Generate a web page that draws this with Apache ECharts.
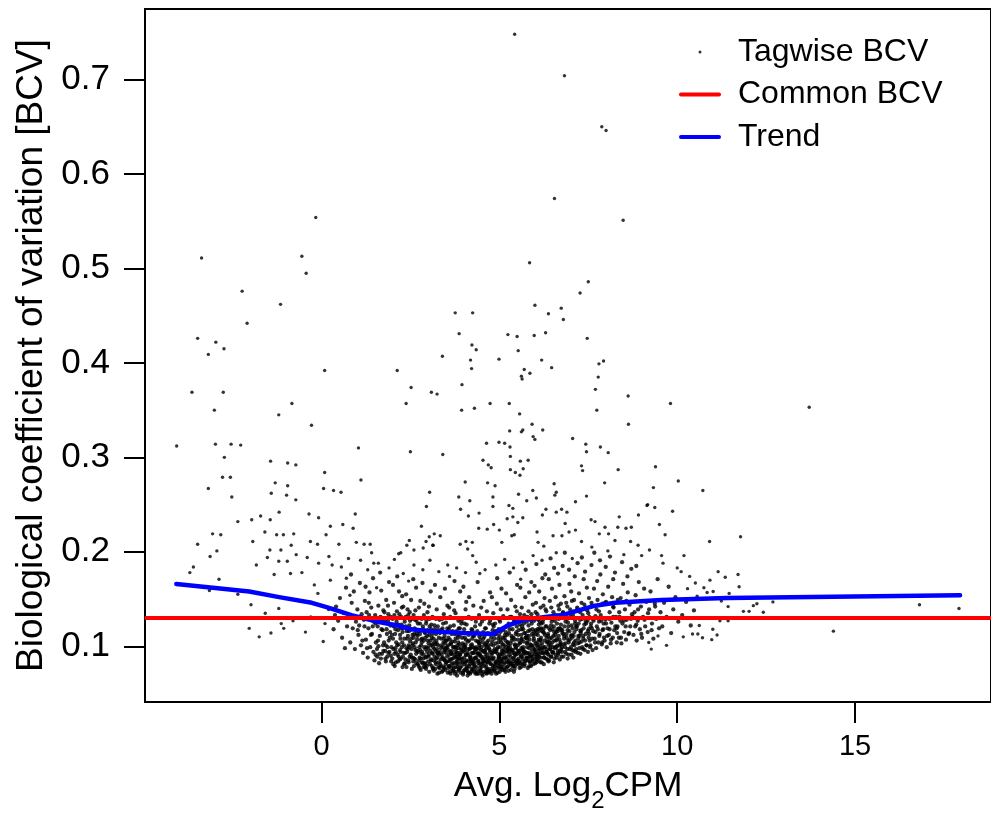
<!DOCTYPE html>
<html><head><meta charset="utf-8">
<script src="https://cdn.jsdelivr.net/npm/echarts@6/dist/echarts.min.js"></script>
<style>html,body{margin:0;padding:0;background:#fff}#chart{width:991px;height:818px}</style>
</head><body><div id="chart"></div>
<script>
const xTicks = [0, 5, 10, 15];
const yTicks = [0.1, 0.2, 0.3, 0.4, 0.5, 0.6, 0.7];
const commonBCV = 0.129;
const trendLogCPM = [-4.08,-2.03,-1.19,-0.27,0.19,0.84,1.58,2.14,2.51,3.06,3.99,4.82,5.19,5.66,6.77,7.69,8.25,9.08,9.55,10.47,11.4,17.95];
const trendBCV    = [0.166,0.158,0.152,0.146,0.141,0.133,0.126,0.122,0.118,0.116,0.114,0.113,0.121,0.128,0.133,0.143,0.146,0.148,0.149,0.150,0.151,0.154];

// tagwise BCV, sparse / outlying genes  [logCPM, BCV]
const tagwiseSparse = [
[5.43,0.748],[6.83,0.704],[7.88,0.65],[8.0,0.646],[6.55,0.574],[-0.16,0.554],[8.48,0.551],[-3.37,0.511],[-0.55,0.513],[5.85,0.506],[-0.43,0.495],[7.5,0.486],[-2.23,0.476],[7.27,0.474],[-1.15,0.462],[6.0,0.461],[6.74,0.458],[3.76,0.453],[4.25,0.453],[6.38,0.452],[6.8,0.446],[-2.09,0.442],[6.3,0.432],[3.87,0.431],[5.24,0.43],[5.98,0.429],[5.5,0.428],[-3.48,0.426],[7.47,0.426],[-2.97,0.422],[4.23,0.419],[-2.74,0.415],[4.35,0.414],[5.53,0.413],[-3.18,0.409],[3.4,0.407],[4.99,0.404],[4.19,0.403],[6.19,0.403],[7.93,0.402],[7.8,0.399],[6.47,0.395],[4.22,0.394],[5.7,0.393],[0.09,0.392],[2.13,0.392],[5.86,0.389],[5.62,0.386],[7.78,0.385],[5.64,0.383],[3.95,0.377],[2.52,0.374],[7.7,0.372],[-3.64,0.369],[-2.76,0.369],[3.09,0.369],[3.25,0.367],[8.62,0.365],[-0.83,0.357],[2.38,0.357],[4.74,0.357],[5.28,0.357],[9.81,0.357],[13.71,0.353],[4.3,0.352],[-3.01,0.35],[3.94,0.35],[7.74,0.35],[5.57,0.346],[-1.2,0.345],[-0.28,0.334],[5.92,0.335],[8.63,0.335],[5.66,0.329],[6.22,0.329],[5.29,0.328],[5.62,0.327],[5.95,0.322],[7.06,0.32],[6.0,0.319],[4.99,0.316],[5.15,0.315],[4.64,0.315],[-2.98,0.314],[-2.54,0.314],[7.43,0.314],[-2.27,0.313],[-4.07,0.312],[7.84,0.311],[5.3,0.311],[1.04,0.31],[2.5,0.306],[7.45,0.306],[8.06,0.305],[3.41,0.303],[5.31,0.301],[-2.73,0.3],[4.54,0.297],[5.81,0.297],[-1.43,0.296],[5.59,0.296],[-0.95,0.294],[4.69,0.292],[-0.72,0.292],[7.31,0.291],[9.39,0.29],[4.77,0.289],[5.67,0.288],[5.31,0.287],[8.34,0.287],[7.34,0.286],[5.45,0.284],[0.09,0.284],[5.58,0.281],[-2.78,0.279],[-2.56,0.279],[1.11,0.276],[10.03,0.275],[4.04,0.274],[7.96,0.273],[4.67,0.273],[-1.3,0.273],[6.54,0.272],[4.88,0.27],[-0.95,0.27],[9.33,0.268],[-3.18,0.267],[0.06,0.267],[5.94,0.265],[10.72,0.265],[0.34,0.265],[0.55,0.263],[3.04,0.263],[6.6,0.263],[-1.41,0.262],[5.54,0.261],[-0.98,0.26],[6.56,0.26],[7.45,0.259],[-2.52,0.258],[3.86,0.258],[4.82,0.258],[6.04,0.257],[-0.72,0.255],[5.77,0.254],[4.17,0.254],[7.14,0.253],[9.17,0.25],[5.27,0.249],[9.15,0.249],[2.95,0.248],[4.82,0.248],[9.37,0.247],[5.38,0.246],[3.91,0.245],[6.31,0.245],[6.75,0.245],[9.87,0.243],[-1.19,0.242],[6.6,0.242],[6.9,0.242],[4.43,0.241],[-0.35,0.24],[0.95,0.24],[6.21,0.239],[8.91,0.239],[-1.71,0.238],[4.13,0.238],[5.38,0.237],[8.37,0.237],[5.66,0.236],[-0.08,0.236],[5.22,0.235],[-1.96,0.234],[-1.44,0.234],[7.58,0.234],[-2.35,0.232],[7.69,0.232],[5.52,0.231],[6.85,0.23],[9.5,0.229],[0.6,0.229],[4.84,0.229],[2.81,0.227],[0.25,0.227],[8.71,0.226],[7.97,0.226],[8.33,0.226],[8.56,0.225],[0.89,0.225],[4.42,0.225],[4.66,0.224],[5.0,0.223],[7.14,0.223],[-1.59,0.221],[6.06,0.221],[6.96,0.221],[3.17,0.219],[-0.78,0.219],[-3.06,0.219],[8.07,0.219],[7.81,0.219],[-1.26,0.218],[-1.07,0.218],[-2.83,0.218],[5.42,0.218],[0.13,0.218],[9.66,0.218],[6.51,0.217],[3.34,0.217],[6.76,0.217],[11.78,0.216],[3.03,0.216],[5.35,0.217],[2.47,0.212],[8.25,0.212],[7.31,0.211],[10.91,0.211],[-1.93,0.211],[-0.31,0.211],[4.06,0.211],[2.94,0.211],[8.69,0.211],[4.24,0.21],[6.09,0.21],[5.07,0.21],[0.98,0.21],[1.2,0.208],[1.37,0.208],[0.49,0.208],[-0.11,0.208],[3.9,0.208],[-3.48,0.208],[3.13,0.207],[3.14,0.207],[2.4,0.207],[-0.85,0.207],[8.9,0.207],[6.25,0.206],[2.86,0.204],[4.11,0.203],[-1.14,0.202],[2.6,0.202],[-1.45,0.202],[9.22,0.202],[-2.94,0.201],[1.41,0.199],[2.23,0.199],[2.17,0.198],[-0.71,0.197],[10.19,0.196],[9.56,0.196],[4.25,0.196],[-1.52,0.194],[-0.4,0.194],[0.21,0.195],[-3.13,0.195],[0.76,0.193],[-0.96,0.19],[-1.2,0.19],[-0.08,0.188],[1.47,0.188],[-1.83,0.186],[-3.6,0.184],[0.56,0.184],[11.15,0.179],[10.11,0.179],[-0.55,0.178],[-3.7,0.178],[-0.87,0.177],[-1.33,0.176],[11.71,0.176],[10.35,0.174],[11.35,0.173],[-2.88,0.171],[10.92,0.17],[10.51,0.167],[11.74,0.163],[10.75,0.162],[10.29,0.161],[-3.15,0.159],[11.01,0.158],[10.84,0.157],[11.46,0.156],[-2.35,0.155],[10.56,0.153],[11.24,0.148],[12.69,0.147],[12.24,0.145],[-1.98,0.144],[16.81,0.144],[12.14,0.143],[11.43,0.142],[17.92,0.14],[-1.2,0.14],[11.86,0.137],[12.02,0.137],[12.42,0.136],[-1.58,0.135],[11.2,0.127],[11.43,0.127],[-1.13,0.124],[10.62,0.122],[-2.03,0.119],[-1.06,0.119],[11.0,0.118],[14.39,0.116],[-1.42,0.114],[10.43,0.113],[10.58,0.113],[11.12,0.112],[-1.75,0.11],[10.17,0.11],[10.71,0.109],[10.97,0.107],[9.7,0.101],[9.46,0.111],[9.27,0.097],[9.2,0.104],
[0.3,0.186],[0.7,0.172],[1.1,0.191],[1.3,0.181],[1.6,0.188],[1.9,0.183],[2.05,0.192],[2.3,0.177],[2.6,0.186],[2.85,0.181],[3.05,0.191],[3.3,0.179],[3.55,0.186],[3.8,0.183],[4.05,0.178],[4.35,0.189],[4.6,0.181],[4.9,0.186],[5.15,0.192],[5.4,0.183],[5.65,0.189],[5.95,0.196],[6.2,0.191],[6.6,0.199],[7.05,0.193],[7.6,0.205],[8.05,0.201],[8.5,0.197],[9.0,0.196],[9.6,0.188],[10.0,0.183],[0.8,0.154],[1.55,0.162],[2.45,0.169],[3.6,0.174],[4.45,0.177],[5.6,0.171],
[-0.6,0.148],[-0.3,0.131],[-0.1,0.156],[0.1,0.124],[0.2,0.139],[-0.8,0.127],[0.05,0.105],[-0.45,0.115],[0.25,0.17],[-0.2,0.165]
];

// tagwise BCV, dense core  [logCPM, BCV]
const tagwiseDense = [
[0.34,0.118],[0.41,0.142],[0.47,0.127],[0.52,0.151],[0.58,0.109],[0.63,0.135],[0.69,0.162],[0.72,0.121],[0.38,0.133],[0.66,0.098],
[0.78,0.131],[0.81,0.104],[0.85,0.146],[0.88,0.119],[0.91,0.158],[0.94,0.097],[0.97,0.126],[1.01,0.139],[1.04,0.112],[1.08,0.167],[1.11,0.101],[1.13,0.134],[0.83,0.176],[1.06,0.122],
[1.17,0.093],[1.19,0.128],[1.22,0.148],[1.25,0.107],[1.27,0.136],[1.3,0.088],[1.32,0.119],[1.35,0.157],[1.37,0.099],[1.4,0.141],[1.42,0.113],[1.45,0.172],[1.47,0.126],[1.49,0.085],[1.51,0.133],[1.53,0.104],[1.24,0.163],[1.44,0.121],
[1.56,0.097],[1.58,0.121],[1.6,0.143],[1.62,0.082],[1.64,0.111],[1.66,0.131],[1.68,0.159],[1.7,0.092],[1.72,0.117],[1.74,0.138],[1.76,0.104],[1.78,0.126],[1.8,0.087],[1.82,0.149],[1.84,0.113],[1.86,0.099],[1.88,0.134],[1.9,0.168],[1.92,0.109],[1.94,0.122],[1.65,0.178],[1.79,0.095],[1.87,0.143],[1.71,0.128],
[1.96,0.084],[1.98,0.112],[2.0,0.129],[2.02,0.097],[2.04,0.146],[2.06,0.079],[2.08,0.118],[2.1,0.104],[2.12,0.137],[2.14,0.091],[2.16,0.123],[2.18,0.158],[2.2,0.086],[2.22,0.108],[2.24,0.131],[2.26,0.099],[2.28,0.115],[2.3,0.142],[2.32,0.081],[2.34,0.126],[2.01,0.165],[2.09,0.094],[2.17,0.102],[2.23,0.119],[2.29,0.089],[2.13,0.174],[2.27,0.153],[2.05,0.133],
[2.36,0.093],[2.37,0.121],[2.39,0.078],[2.41,0.108],[2.42,0.139],[2.44,0.085],[2.46,0.116],[2.47,0.099],[2.49,0.127],[2.51,0.091],[2.52,0.149],[2.54,0.076],[2.56,0.112],[2.57,0.103],[2.59,0.133],[2.61,0.087],[2.62,0.119],[2.64,0.096],[2.66,0.162],[2.67,0.082],[2.69,0.107],[2.71,0.124],[2.72,0.094],[2.74,0.141],[2.38,0.155],[2.45,0.101],[2.53,0.088],[2.58,0.171],[2.63,0.128],[2.68,0.113],[2.73,0.079],[2.48,0.136],
[2.76,0.088],[2.77,0.113],[2.79,0.075],[2.8,0.101],[2.82,0.129],[2.83,0.094],[2.85,0.082],[2.86,0.118],[2.88,0.106],[2.89,0.145],[2.91,0.078],[2.92,0.097],[2.94,0.124],[2.95,0.089],[2.97,0.111],[2.98,0.136],[3.0,0.084],[3.01,0.103],[3.03,0.073],[3.04,0.121],[3.06,0.095],[3.07,0.158],[3.09,0.086],[3.1,0.109],[3.12,0.131],[3.13,0.092],[3.14,0.077],[2.78,0.148],[2.84,0.167],[2.9,0.115],[2.96,0.099],[3.02,0.142],[3.08,0.118],[2.87,0.091],[2.93,0.081],[3.11,0.102],
[3.16,0.085],[3.17,0.104],[3.18,0.122],[3.2,0.076],[3.21,0.095],[3.22,0.113],[3.24,0.139],[3.25,0.088],[3.26,0.071],[3.28,0.101],[3.29,0.117],[3.3,0.083],[3.32,0.128],[3.33,0.094],[3.34,0.152],[3.36,0.079],[3.37,0.108],[3.38,0.091],[3.4,0.119],[3.41,0.074],[3.42,0.099],[3.44,0.134],[3.45,0.086],[3.46,0.111],[3.48,0.097],[3.49,0.081],[3.5,0.125],[3.52,0.106],[3.53,0.089],[3.54,0.143],[3.19,0.165],[3.27,0.093],[3.31,0.072],[3.35,0.115],[3.39,0.129],[3.43,0.078],[3.47,0.161],[3.51,0.098],[3.23,0.087],[3.47,0.103],
[3.56,0.077],[3.57,0.096],[3.58,0.118],[3.6,0.084],[3.61,0.107],[3.62,0.131],[3.63,0.071],[3.65,0.092],[3.66,0.113],[3.67,0.081],[3.68,0.146],[3.7,0.099],[3.71,0.074],[3.72,0.122],[3.73,0.088],[3.75,0.105],[3.76,0.078],[3.77,0.135],[3.78,0.094],[3.8,0.116],[3.81,0.069],[3.82,0.101],[3.83,0.086],[3.85,0.127],[3.86,0.093],[3.87,0.075],[3.88,0.112],[3.9,0.158],[3.91,0.083],[3.92,0.098],[3.93,0.124],[3.94,0.079],[3.59,0.141],[3.64,0.102],[3.69,0.087],[3.74,0.169],[3.79,0.082],[3.84,0.109],[3.89,0.091],[3.61,0.073],[3.73,0.138],[3.86,0.119],
[3.96,0.086],[3.97,0.103],[3.98,0.072],[4.0,0.095],[4.01,0.118],[4.02,0.081],[4.03,0.109],[4.05,0.139],[4.06,0.076],[4.07,0.091],[4.08,0.123],[4.1,0.084],[4.11,0.069],[4.12,0.105],[4.13,0.097],[4.15,0.152],[4.16,0.079],[4.17,0.114],[4.18,0.088],[4.2,0.101],[4.21,0.073],[4.22,0.129],[4.23,0.093],[4.25,0.082],[4.26,0.111],[4.27,0.143],[4.28,0.077],[4.3,0.098],[4.31,0.087],[4.32,0.121],[4.33,0.071],[4.34,0.106],[3.99,0.163],[4.04,0.099],[4.09,0.074],[4.14,0.131],[4.19,0.089],[4.24,0.117],[4.29,0.083],[4.07,0.147],[4.18,0.071],[4.31,0.094],
[4.36,0.078],[4.37,0.097],[4.38,0.116],[4.4,0.085],[4.41,0.071],[4.42,0.104],[4.43,0.133],[4.45,0.092],[4.46,0.081],[4.47,0.112],[4.48,0.074],[4.5,0.099],[4.51,0.126],[4.52,0.087],[4.53,0.069],[4.55,0.108],[4.56,0.148],[4.57,0.094],[4.58,0.079],[4.6,0.119],[4.61,0.086],[4.62,0.102],[4.63,0.072],[4.65,0.137],[4.66,0.091],[4.67,0.083],[4.68,0.114],[4.7,0.076],[4.71,0.098],[4.72,0.124],[4.73,0.088],[4.74,0.157],[4.39,0.168],[4.44,0.101],[4.49,0.141],[4.54,0.083],[4.59,0.095],[4.64,0.076],[4.69,0.106],[4.47,0.09],[4.58,0.129],[4.73,0.073],
[4.76,0.081],[4.77,0.102],[4.78,0.071],[4.8,0.093],[4.81,0.117],[4.82,0.086],[4.83,0.135],[4.85,0.076],[4.86,0.108],[4.87,0.097],[4.88,0.124],[4.9,0.083],[4.91,0.071],[4.92,0.113],[4.93,0.145],[4.95,0.092],[4.96,0.079],[4.97,0.104],[4.98,0.088],[5.0,0.128],[5.01,0.073],[5.02,0.099],[5.03,0.115],[5.05,0.084],[5.06,0.161],[5.07,0.095],[5.08,0.078],[5.1,0.109],[5.11,0.132],[5.12,0.087],[5.13,0.101],[5.14,0.075],[4.79,0.152],[4.84,0.121],[4.89,0.094],[4.94,0.172],[4.99,0.082],[5.04,0.139],[5.09,0.091],[4.87,0.074],[5.0,0.111],[5.12,0.119],
[5.16,0.088],[5.17,0.106],[5.18,0.077],[5.2,0.121],[5.21,0.095],[5.22,0.083],[5.23,0.139],[5.25,0.101],[5.26,0.074],[5.27,0.114],[5.28,0.091],[5.3,0.131],[5.31,0.082],[5.32,0.103],[5.33,0.149],[5.35,0.096],[5.36,0.079],[5.37,0.118],[5.38,0.087],[5.4,0.109],[5.41,0.126],[5.42,0.093],[5.43,0.076],[5.45,0.142],[5.46,0.099],[5.47,0.085],[5.48,0.115],[5.5,0.165],[5.51,0.092],[5.52,0.107],[5.53,0.081],[5.54,0.128],[5.19,0.156],[5.24,0.097],[5.29,0.178],[5.34,0.111],[5.39,0.084],[5.44,0.102],[5.49,0.137],[5.26,0.124],[5.41,0.073],[5.52,0.095],
[5.56,0.084],[5.57,0.103],[5.58,0.123],[5.6,0.091],[5.61,0.078],[5.62,0.112],[5.63,0.141],[5.65,0.097],[5.66,0.086],[5.67,0.118],[5.68,0.105],[5.7,0.133],[5.71,0.081],[5.72,0.094],[5.73,0.152],[5.75,0.109],[5.76,0.088],[5.77,0.126],[5.78,0.099],[5.8,0.077],[5.81,0.116],[5.82,0.137],[5.83,0.092],[5.85,0.107],[5.86,0.083],[5.87,0.129],[5.88,0.101],[5.9,0.168],[5.91,0.095],[5.92,0.113],[5.93,0.086],[5.94,0.144],[5.59,0.162],[5.64,0.121],[5.69,0.093],[5.74,0.181],[5.79,0.104],[5.84,0.157],[5.89,0.079],[5.62,0.098],[5.77,0.111],[5.91,0.124],
[5.96,0.089],[5.97,0.108],[5.98,0.127],[6.0,0.096],[6.01,0.082],[6.02,0.117],[6.03,0.146],[6.05,0.101],[6.06,0.091],[6.07,0.134],[6.08,0.112],[6.1,0.085],[6.11,0.123],[6.12,0.158],[6.13,0.097],[6.15,0.106],[6.16,0.141],[6.17,0.088],[6.18,0.119],[6.2,0.103],[6.21,0.172],[6.22,0.093],[6.23,0.128],[6.25,0.081],[6.26,0.114],[6.27,0.151],[6.28,0.099],[6.3,0.121],[6.31,0.087],[6.32,0.137],[6.33,0.109],[6.34,0.094],[5.99,0.164],[6.04,0.187],[6.09,0.099],[6.14,0.126],[6.19,0.083],[6.24,0.143],[6.29,0.176],[6.11,0.107],
[6.36,0.092],[6.37,0.113],[6.38,0.131],[6.4,0.085],[6.41,0.104],[6.42,0.148],[6.43,0.097],[6.45,0.122],[6.46,0.089],[6.47,0.109],[6.48,0.161],[6.5,0.118],[6.51,0.094],[6.52,0.136],[6.53,0.083],[6.55,0.106],[6.56,0.127],[6.57,0.099],[6.58,0.152],[6.6,0.115],[6.61,0.088],[6.62,0.124],[6.63,0.101],[6.65,0.177],[6.66,0.093],[6.67,0.111],[6.68,0.139],[6.7,0.086],[6.71,0.119],[6.72,0.102],[6.73,0.145],[6.74,0.097],[6.39,0.171],[6.44,0.193],[6.49,0.129],[6.54,0.183],[6.64,0.116],[6.69,0.165],
[6.76,0.094],[6.77,0.117],[6.79,0.135],[6.8,0.089],[6.82,0.108],[6.83,0.153],[6.85,0.099],[6.86,0.126],[6.88,0.092],[6.89,0.113],[6.91,0.142],[6.92,0.087],[6.94,0.121],[6.95,0.104],[6.97,0.166],[6.98,0.097],[7.0,0.131],[7.01,0.111],[7.03,0.091],[7.04,0.148],[7.06,0.119],[7.07,0.102],[7.09,0.137],[7.1,0.095],[7.12,0.174],[7.13,0.124],[7.14,0.106],[6.78,0.185],[6.84,0.199],[6.9,0.129],[6.96,0.181],[7.02,0.158],[7.08,0.088],[7.11,0.115],
[7.16,0.097],[7.18,0.121],[7.19,0.139],[7.21,0.093],[7.22,0.111],[7.24,0.156],[7.25,0.104],[7.27,0.128],[7.28,0.092],[7.3,0.117],[7.31,0.146],[7.33,0.099],[7.34,0.133],[7.36,0.108],[7.37,0.171],[7.39,0.123],[7.4,0.096],[7.42,0.141],[7.43,0.113],[7.45,0.101],[7.46,0.162],[7.48,0.127],[7.49,0.094],[7.51,0.118],[7.52,0.151],[7.54,0.106],[7.2,0.188],[7.32,0.194],[7.41,0.179],[7.5,0.135],
[7.56,0.101],[7.58,0.124],[7.6,0.143],[7.62,0.096],[7.64,0.116],[7.66,0.161],[7.68,0.108],[7.7,0.132],[7.72,0.098],[7.74,0.121],[7.76,0.149],[7.78,0.104],[7.8,0.137],[7.82,0.113],[7.84,0.176],[7.86,0.127],[7.88,0.102],[7.9,0.145],[7.92,0.118],[7.94,0.109],[7.59,0.186],[7.67,0.199],[7.75,0.169],[7.83,0.191],[7.91,0.155],[7.63,0.129],
[7.96,0.106],[7.98,0.128],[8.0,0.147],[8.02,0.099],[8.04,0.119],[8.06,0.163],[8.08,0.112],[8.1,0.136],[8.13,0.103],[8.15,0.125],[8.17,0.152],[8.19,0.109],[8.21,0.141],[8.23,0.117],[8.25,0.178],[8.28,0.131],[8.3,0.104],[8.33,0.149],[7.99,0.184],[8.11,0.195],[8.2,0.171],[8.32,0.121],
[8.36,0.109],[8.38,0.131],[8.41,0.151],[8.43,0.103],[8.46,0.124],[8.48,0.166],[8.51,0.115],[8.53,0.139],[8.56,0.107],[8.58,0.128],[8.61,0.157],[8.63,0.113],[8.66,0.144],[8.68,0.121],[8.71,0.182],[8.73,0.134],[8.45,0.189],[8.6,0.174],
[8.77,0.112],[8.8,0.136],[8.83,0.154],[8.86,0.106],[8.89,0.127],[8.92,0.168],[8.95,0.118],[8.98,0.142],[9.01,0.109],[9.04,0.131],[9.07,0.161],[9.1,0.121],[9.13,0.147],[8.85,0.185],
[9.17,0.115],[9.21,0.139],[9.25,0.158],[9.29,0.124],[9.33,0.108],[9.37,0.145],[9.41,0.129],[9.45,0.171],[9.49,0.119],[9.53,0.136],
[9.58,0.121],[9.63,0.146],[9.7,0.131],[9.76,0.163],[9.83,0.114],[9.89,0.139],[9.95,0.152],[10.03,0.126],
[10.14,0.133],[10.25,0.147],[10.38,0.122],[10.47,0.138]
];

// tagwise BCV, densest core (second and third pass over the solid region)  [logCPM, BCV]
const tagwiseCore = [
[1.81,0.101],[1.83,0.118],[1.85,0.089],[1.87,0.127],[1.89,0.106],[1.91,0.094],[1.93,0.115],[1.95,0.131],[1.97,0.099],[1.99,0.087],
[2.01,0.108],[2.03,0.121],[2.05,0.092],[2.07,0.113],[2.09,0.083],[2.11,0.126],[2.13,0.101],[2.15,0.117],[2.17,0.089],[2.19,0.134],[2.21,0.096],
[2.21,0.112],[2.23,0.087],[2.25,0.123],[2.27,0.104],[2.29,0.119],[2.31,0.093],[2.33,0.108],[2.35,0.082],[2.37,0.131],[2.39,0.098],[2.4,0.116],[2.26,0.141],
[2.41,0.094],[2.43,0.111],[2.45,0.083],[2.47,0.122],[2.49,0.105],[2.51,0.118],[2.53,0.097],[2.55,0.129],[2.57,0.088],[2.59,0.109],[2.6,0.079],[2.44,0.133],[2.56,0.101],
[2.61,0.113],[2.63,0.086],[2.65,0.104],[2.67,0.127],[2.69,0.095],[2.71,0.081],[2.73,0.116],[2.75,0.099],[2.77,0.124],[2.79,0.087],[2.8,0.107],[2.64,0.138],[2.76,0.077],
[2.81,0.092],[2.83,0.108],[2.85,0.121],[2.87,0.078],[2.89,0.099],[2.91,0.114],[2.93,0.088],[2.95,0.127],[2.97,0.094],[2.99,0.106],[2.82,0.083],[2.88,0.133],[2.94,0.076],[2.98,0.117],
[3.01,0.089],[3.03,0.112],[3.05,0.081],[3.07,0.101],[3.09,0.123],[3.11,0.093],[3.13,0.076],[3.15,0.108],[3.17,0.097],[3.19,0.118],[3.04,0.129],[3.08,0.085],[3.12,0.113],[3.16,0.074],[3.2,0.102],
[3.21,0.083],[3.23,0.106],[3.25,0.097],[3.27,0.121],[3.29,0.078],[3.31,0.091],[3.33,0.114],[3.35,0.086],[3.37,0.101],[3.39,0.073],[3.22,0.129],[3.26,0.092],[3.3,0.109],[3.34,0.081],[3.38,0.117],
[3.41,0.088],[3.43,0.104],[3.45,0.077],[3.47,0.096],[3.49,0.115],[3.51,0.083],[3.53,0.099],[3.55,0.072],[3.57,0.109],[3.59,0.091],[3.42,0.124],[3.46,0.085],[3.5,0.106],[3.54,0.119],[3.58,0.079],[3.44,0.094],
[3.61,0.086],[3.63,0.103],[3.65,0.077],[3.67,0.095],[3.69,0.116],[3.71,0.082],[3.73,0.099],[3.75,0.071],[3.77,0.108],[3.79,0.089],[3.62,0.121],[3.66,0.092],[3.7,0.074],[3.74,0.113],[3.78,0.097],[3.8,0.084],
[3.81,0.093],[3.83,0.078],[3.85,0.104],[3.87,0.087],[3.89,0.119],[3.91,0.072],[3.93,0.096],[3.95,0.109],[3.97,0.083],[3.99,0.101],[3.82,0.112],[3.86,0.076],[3.9,0.091],[3.94,0.127],[3.98,0.07],[3.84,0.098],
[4.01,0.088],[4.03,0.075],[4.05,0.102],[4.07,0.085],[4.09,0.114],[4.11,0.093],[4.13,0.072],[4.15,0.106],[4.17,0.081],[4.19,0.098],[4.02,0.124],[4.06,0.091],[4.1,0.077],[4.14,0.112],[4.18,0.086],[4.04,0.096],
[4.21,0.084],[4.23,0.102],[4.25,0.075],[4.27,0.093],[4.29,0.111],[4.31,0.079],[4.33,0.097],[4.35,0.088],[4.37,0.071],[4.39,0.105],[4.22,0.118],[4.26,0.086],[4.3,0.073],[4.34,0.126],[4.38,0.092],[4.24,0.099],
[4.41,0.082],[4.43,0.098],[4.45,0.074],[4.47,0.107],[4.49,0.089],[4.51,0.071],[4.53,0.095],[4.55,0.115],[4.57,0.084],[4.59,0.101],[4.42,0.091],[4.46,0.123],[4.5,0.078],[4.54,0.086],[4.58,0.11],[4.44,0.103],
[4.61,0.093],[4.63,0.079],[4.65,0.104],[4.67,0.088],[4.69,0.072],[4.71,0.113],[4.73,0.096],[4.75,0.082],[4.77,0.109],[4.79,0.076],[4.62,0.119],[4.66,0.099],[4.7,0.085],[4.74,0.127],[4.78,0.091],[4.64,0.071],
[4.81,0.087],[4.83,0.101],[4.85,0.074],[4.87,0.094],[4.89,0.116],[4.91,0.083],[4.93,0.097],[4.95,0.072],[4.97,0.108],[4.99,0.089],[4.82,0.123],[4.86,0.079],[4.9,0.103],[4.94,0.085],[4.98,0.118],[4.84,0.095],
[5.01,0.091],[5.03,0.076],[5.05,0.104],[5.07,0.087],[5.09,0.117],[5.11,0.095],[5.13,0.081],[5.15,0.109],[5.17,0.073],[5.19,0.099],[5.02,0.126],[5.06,0.084],[5.1,0.102],[5.14,0.093],[5.18,0.115],[5.04,0.078],
[5.21,0.086],[5.23,0.104],[5.25,0.079],[5.27,0.097],[5.29,0.118],[5.31,0.089],[5.33,0.075],[5.35,0.106],[5.37,0.093],[5.39,0.124],[5.22,0.112],[5.26,0.083],[5.3,0.099],[5.34,0.131],[5.38,0.081],[5.24,0.094],
[5.41,0.088],[5.43,0.107],[5.45,0.079],[5.47,0.098],[5.49,0.121],[5.51,0.085],[5.53,0.112],[5.55,0.094],[5.57,0.077],[5.59,0.104],[5.42,0.129],[5.46,0.091],[5.5,0.082],[5.54,0.117],[5.58,0.134],[5.44,0.101],
[5.61,0.089],[5.63,0.108],[5.65,0.081],[5.67,0.099],[5.69,0.124],[5.71,0.092],[5.73,0.114],[5.75,0.085],[5.77,0.103],[5.79,0.131],[5.62,0.118],[5.66,0.095],[5.7,0.079],[5.74,0.109],[5.78,0.088],[5.64,0.127],
[5.81,0.093],[5.83,0.111],[5.85,0.084],[5.87,0.102],[5.89,0.127],[5.91,0.091],[5.93,0.118],[5.95,0.081],[5.97,0.106],[5.99,0.097],[5.82,0.122],[5.86,0.089],[5.9,0.134],[5.94,0.099],[5.98,0.115],[5.84,0.079],
[6.01,0.094],[6.03,0.113],[6.05,0.086],[6.07,0.104],[6.09,0.128],[6.11,0.092],[6.13,0.119],[6.15,0.083],[6.17,0.109],[6.19,0.098],[6.02,0.136],[6.06,0.089],[6.1,0.116],[6.14,0.101],[6.18,0.124],[6.04,0.083],
[6.21,0.096],[6.23,0.115],[6.25,0.088],[6.27,0.106],[6.29,0.131],[6.31,0.094],[6.33,0.121],[6.35,0.086],[6.37,0.111],[6.39,0.101],[6.22,0.125],[6.26,0.092],[6.3,0.139],[6.34,0.104],[6.38,0.084],[6.24,0.118],
[6.41,0.097],[6.43,0.117],[6.45,0.089],[6.47,0.126],[6.49,0.104],[6.51,0.093],[6.53,0.121],[6.55,0.087],[6.57,0.112],[6.59,0.133],[6.42,0.108],[6.46,0.141],[6.5,0.099],[6.54,0.115],[6.58,0.091],
[6.61,0.099],[6.63,0.118],[6.65,0.091],[6.67,0.129],[6.69,0.107],[6.71,0.095],[6.73,0.123],[6.75,0.089],[6.77,0.114],[6.79,0.136],[6.62,0.108],[6.66,0.143],[6.7,0.101],[6.74,0.117],
[6.81,0.102],[6.83,0.121],[6.85,0.094],[6.87,0.131],[6.89,0.109],[6.91,0.097],[6.93,0.125],[6.95,0.091],[6.97,0.116],[6.99,0.139],[6.82,0.111],[6.88,0.146],[6.94,0.106],
[7.01,0.099],[7.03,0.122],[7.05,0.096],[7.07,0.133],[7.09,0.111],[7.11,0.101],[7.13,0.127],[7.15,0.094],[7.17,0.118],[7.19,0.141],[7.04,0.109],[7.1,0.149],
[7.21,0.103],[7.23,0.124],[7.25,0.098],[7.27,0.136],[7.29,0.114],[7.31,0.105],[7.33,0.129],[7.35,0.097],[7.37,0.119],[7.39,0.144],[7.26,0.111],
[7.41,0.106],[7.43,0.126],[7.45,0.101],[7.47,0.138],[7.49,0.116],[7.51,0.109],[7.53,0.131],[7.55,0.099],[7.57,0.121],[7.59,0.146],
[7.61,0.108],[7.65,0.127],[7.69,0.104],[7.73,0.139],[7.77,0.118],[7.81,0.111],[7.85,0.133],[7.89,0.104],[7.93,0.124],[7.97,0.146],
[8.03,0.111],[8.09,0.129],[8.14,0.107],[8.2,0.142],[8.26,0.121],[8.31,0.114],[8.37,0.136],[8.42,0.109],[8.5,0.127],[8.57,0.148],
[8.65,0.114],[8.74,0.131],[8.82,0.121],[8.9,0.139],[8.99,0.113],[9.08,0.128],[9.18,0.135],[9.28,0.117],[9.38,0.142],
[1.02,0.117],[1.09,0.131],[1.15,0.106],[1.21,0.121],[1.28,0.098],[1.34,0.133],[1.39,0.112],[1.46,0.094],[1.52,0.124],[1.59,0.106],[1.63,0.092],[1.69,0.118],[1.73,0.101],[1.77,0.136],[1.57,0.089],[1.33,0.146],
[2.32,0.101],[2.36,0.086],[2.43,0.097],[2.48,0.089],[2.52,0.108],[2.58,0.084],[2.62,0.099],[2.66,0.092],[2.7,0.111],[2.74,0.085],[2.78,0.096],[2.82,0.104],[2.86,0.087],[2.9,0.082],[2.92,0.109],[2.96,0.079],[3.0,0.098],[3.02,0.091],[3.06,0.106],[3.1,0.079],[3.14,0.099],[3.18,0.089],[3.22,0.081],[3.24,0.103],[3.28,0.093],[3.32,0.077],[3.36,0.098],[3.4,0.087],[3.44,0.108],[3.48,0.075],[3.5,0.093],[3.52,0.084],[3.56,0.101],[3.6,0.079],[3.62,0.094],[3.64,0.086],[3.68,0.105],[3.72,0.077],[3.74,0.091],[3.76,0.099],[3.8,0.073],[3.82,0.089],[3.84,0.081],[3.88,0.102],[3.9,0.077],[3.92,0.087],[3.96,0.094],[4.0,0.074],[4.02,0.099],[4.04,0.083],[4.06,0.107],[4.08,0.079],[4.12,0.091],[4.14,0.072],[4.16,0.097],[4.2,0.085],[4.22,0.076],[4.24,0.108],[4.26,0.093],[4.28,0.081],[4.32,0.088],[4.34,0.099],[4.36,0.074],[4.4,0.093],[4.42,0.084],[4.44,0.11],[4.46,0.077],[4.48,0.096],[4.52,0.081],[4.54,0.104],[4.56,0.073],[4.6,0.089],[4.62,0.097],[4.64,0.083],[4.66,0.075],[4.68,0.101],[4.72,0.086],[4.74,0.094],[4.76,0.074],[4.8,0.105],[4.82,0.079],[4.84,0.088],[4.86,0.112],[4.88,0.081],[4.92,0.095],[4.94,0.077],[4.96,0.099],[5.0,0.086],[5.02,0.081],[5.04,0.107],[5.06,0.092],[5.08,0.075],[5.12,0.097],[5.14,0.083],[5.16,0.112],[5.2,0.089],[5.22,0.078],[5.24,0.104],[5.28,0.085],[5.3,0.095],[5.32,0.081],[5.36,0.109],[5.38,0.096],[5.4,0.079],[5.44,0.091],[5.46,0.113],[5.48,0.083],[5.52,0.101],[5.54,0.087],[5.56,0.095],[5.6,0.082],[5.62,0.107],[5.64,0.089],[5.68,0.096],[5.7,0.114],[5.72,0.084],[5.76,0.093],[5.78,0.108],[5.8,0.086],[5.84,0.098],[5.86,0.117],[5.88,0.089],[5.92,0.101],[5.94,0.085],[5.96,0.111],[6.0,0.092],[6.02,0.103],[6.04,0.087],[6.08,0.118],[6.1,0.095],[6.12,0.089],[6.16,0.107],[6.18,0.093],[6.2,0.116],[6.24,0.099],[6.26,0.088],[6.28,0.112],[6.32,0.097],[6.36,0.105],[6.38,0.091],[6.4,0.119],[6.44,0.101],[6.48,0.094],[6.52,0.111],[6.56,0.098],[6.6,0.106],[6.64,0.095],[6.68,0.119],[6.72,0.104],[6.76,0.099],[6.8,0.113],[6.86,0.103],[6.92,0.117],[6.98,0.107],[7.04,0.112],[7.1,0.104],[7.16,0.121],[7.22,0.108],[7.28,0.116],[7.36,0.111],[7.44,0.124],[7.52,0.113],[7.6,0.119],[7.7,0.115],[7.8,0.126],[7.9,0.117],[8.0,0.124],[8.1,0.118],[8.2,0.131],[8.3,0.119],[8.4,0.127],[8.55,0.121],[8.7,0.129],[8.85,0.123],
[1.52,0.091],[1.6,0.1],[1.67,0.087],[1.74,0.095],[1.81,0.084],[1.88,0.093],[1.95,0.09],[2.02,0.081],[2.08,0.098],[2.15,0.084],[2.22,0.094],[2.28,0.078]
];

function dotIcon() {
  const c = document.createElement('canvas');
  c.width = 42; c.height = 6;
  const g = c.getContext('2d');
  g.fillStyle = '#000';
  g.beginPath(); g.arc(21, 3, 1.5, 0, Math.PI * 2); g.fill();
  return 'image://' + c.toDataURL();
}
function showError(e) {
  const d = document.createElement('div');
  d.style.cssText = 'position:absolute;left:160px;top:720px;font:14px sans-serif;color:#c00;background:#fff';
  d.textContent = 'ERR: ' + (e && e.message);
  document.body.appendChild(d);
}

const chart = echarts.init(document.getElementById('chart'), null, {renderer: 'canvas'});
const FONT = '"Liberation Sans", Arial, Helvetica, sans-serif';
const tagwiseData = tagwiseSparse.map(p => ({value: p, symbolSize: 3.4}))
  .concat(tagwiseDense.map(p => ({value: p, symbolSize: 4.3})), tagwiseCore.map(p => ({value: p, symbolSize: 4.3})));
const trendData = trendLogCPM.map((x, i) => [x, trendBCV[i]]);
const X_MIN = -4.96, X_MAX = 18.82, Y_MIN = 0.041, Y_MAX = 0.7747;

try {
chart.setOption({
  backgroundColor: '#fff',
  animation: false,
  textStyle: {fontFamily: FONT, color: '#000'},
  grid: {left: 145, top: 9, right: -9, bottom: 112, show: true, borderColor: '#000', borderWidth: 2},
  legend: {
    orient: 'vertical', left: 674, top: 31, itemWidth: 42, itemHeight: 6, itemGap: 10.5,
    textStyle: {fontSize: 32, lineHeight: 32, color: '#000', fontFamily: FONT, padding: [0, 0, 0, 12]},
    data: [
      {name: 'Tagwise BCV', icon: dotIcon()},
      {name: 'Common BCV', icon: 'path://M2,1 L40,1 A2,2 0 0 1 40,5 L2,5 A2,2 0 0 1 2,1 Z'},
      {name: 'Trend', icon: 'path://M2,1 L40,1 A2,2 0 0 1 40,5 L2,5 A2,2 0 0 1 2,1 Z'}
    ]
  },
  xAxis: {
    type: 'value', min: X_MIN, max: X_MAX,
    name: '{a|Avg. Log}{s|2}{a|CPM}', nameLocation: 'middle', nameGap: 58,
    nameTextStyle: {rich: {a: {fontSize: 35, fontFamily: FONT, color: '#000'}, s: {fontSize: 24, fontFamily: FONT, color: '#000', padding: [29, 0, 0, 0]}}},
    axisLine: {show: true, onZero: false, lineStyle: {color: '#000', width: 2}},
    axisTick: {show: true, length: 21, lineStyle: {color: '#000', width: 2}, customValues: xTicks},
    axisLabel: {fontSize: 29, color: '#000', margin: 30, fontFamily: FONT, customValues: xTicks},
    splitLine: {show: false}
  },
  yAxis: {
    type: 'value', min: Y_MIN, max: Y_MAX,
    name: 'Biological coefficient of variation [BCV]', nameLocation: 'middle', nameGap: 95, nameRotate: 90,
    nameTextStyle: {fontSize: 37, color: '#000', fontFamily: FONT},
    axisLine: {show: true, onZero: false, lineStyle: {color: '#000', width: 2}},
    axisTick: {show: true, length: 21, lineStyle: {color: '#000', width: 2}, customValues: yTicks},
    axisLabel: {fontSize: 35, color: '#000', margin: 35, fontFamily: FONT, customValues: yTicks},
    splitLine: {show: false}
  },
  series: [
    {name: 'Tagwise BCV', type: 'scatter', data: tagwiseData, symbol: 'circle', itemStyle: {color: '#000'}, silent: true, z: 1},
    {name: 'Common BCV', type: 'line', data: [], color: '#ff0000', itemStyle: {color: '#ff0000'},
      markLine: {silent: true, symbol: 'none', label: {show: false}, lineStyle: {color: '#ff0000', width: 4, type: 'solid'}, data: [{yAxis: commonBCV}]}, z: 2},
    {name: 'Trend', type: 'line', data: trendData, showSymbol: false, symbol: 'none', color: '#0000ff', itemStyle: {color: '#0000ff'},
      lineStyle: {color: '#0000ff', width: 4.5, cap: 'round', join: 'round'}, z: 3}
  ]
});
} catch (e) { showError(e); }
</script>
</body></html>
